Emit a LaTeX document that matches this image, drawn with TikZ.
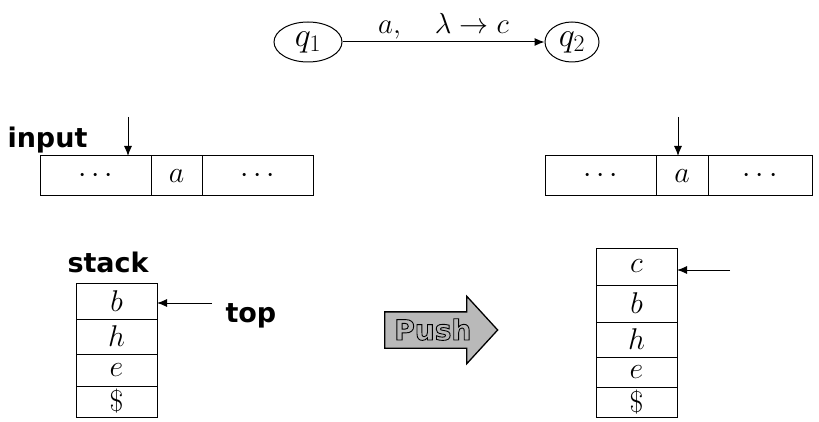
\RequirePackage{fix-cm}
\documentclass[tikz,border=0pt]{standalone}
\usepackage{fontspec}
\newfontfamily\labelfont{DejaVu Sans}
\usetikzlibrary{shapes,arrows,arrows.meta,positioning}

% outlined text for the push arrow
\newcommand{\outlinetext}[1]{\special{pdf:code 1 Tr 0.9 w 0 G}#1\special{pdf:code 0 Tr}}

\begin{document}
\begin{tikzpicture}[
    x=1pt, y=-1pt,
    line width=1pt,
    state/.style={draw, ellipse, minimum height=40pt, inner sep=0pt, font=\fontsize{34}{38}\selectfont},
    cell/.style={draw, rectangle, inner sep=0pt, outer sep=0pt, minimum height=40pt, font=\fontsize{30}{36}\selectfont},
    slot/.style={draw, rectangle, inner sep=0pt, outer sep=0pt, minimum width=81pt, font=\fontsize{30}{36}\selectfont},
    word/.style={inner sep=0pt, font=\labelfont\bfseries\fontsize{27}{32}\selectfont},
    ptr/.style={-{Latex[length=10pt,width=8pt]}, line width=1pt}
]
\useasboundingbox (0,0) rectangle (819,422);

% transition
\node[state, minimum width=68pt] (q1) at (308,42) {$q_1$};
\node[state, minimum width=54pt] (q2) at (572,42) {$q_2$};
\draw[ptr] (q1) -- node[above=1pt, inner sep=1pt, font=\fontsize{29}{34}\selectfont] (trans) {$a,\quad\lambda\rightarrow c$} (q2);

% input tape before
\node[word, anchor=base west] (inlbl) at (7,148) {input};
\node[cell, minimum width=111pt, anchor=north west] (lt1) at (40,156) {$\cdots$};
\node[cell, minimum width=51pt, right=0pt of lt1] (lt2) {$a$};
\node[cell, minimum width=111pt, right=0pt of lt2] (lt3) {$\cdots$};
\coordinate (lhead) at (128,117);
\draw[ptr] (lhead) -- (lhead |- lt1.north);

% input tape after
\node[cell, minimum width=111pt, anchor=north west] (rt1) at (545,156) {$\cdots$};
\node[cell, minimum width=52pt, right=0pt of rt1] (rt2) {$a$};
\node[cell, minimum width=104pt, right=0pt of rt2] (rt3) {$\cdots$};
\coordinate (rhead) at (678,117);
\draw[ptr] (rhead) -- (rhead |- rt2.north);

% stack before
\node[word, anchor=base west] (stklbl) at (67,272) {stack};
\node[slot, minimum height=36pt, anchor=north west] (ls1) at (76,283) {$b$};
\node[slot, minimum height=35pt, below=0pt of ls1] (ls2) {$h$};
\node[slot, minimum height=32pt, below=0pt of ls2] (ls3) {$e$};
\node[slot, minimum height=31pt, below=0pt of ls3] (ls4) {\$};
\node[word, anchor=base west] (toplbl) at (225,322) {top};
\coordinate (ltop) at (212,303);
\draw[ptr] (ltop) -- (ltop -| ls1.east);

% push
\node[single arrow, draw, fill=gray!55, line width=1.3pt, anchor=tail,
      minimum height=113pt, single arrow head extend=15.5pt, single arrow tip angle=95,
      text height=20pt, text depth=0pt, inner ysep=7.5pt, inner xsep=4pt,
      font=\labelfont\bfseries\fontsize{28}{32}\selectfont] (push) at (384,330) {\outlinetext{Push}};

% stack after
\node[slot, minimum height=37pt, anchor=north west] (rs1) at (596,248) {$c$};
\node[slot, minimum height=37pt, below=0pt of rs1] (rs2) {$b$};
\node[slot, minimum height=35pt, below=0pt of rs2] (rs3) {$h$};
\node[slot, minimum height=30pt, below=0pt of rs3] (rs4) {$e$};
\node[slot, minimum height=30pt, below=0pt of rs4] (rs5) {\$};
\coordinate (rtop) at (730,270);
\draw[ptr] (rtop) -- (rtop -| rs1.east);

\end{tikzpicture}
\end{document}
